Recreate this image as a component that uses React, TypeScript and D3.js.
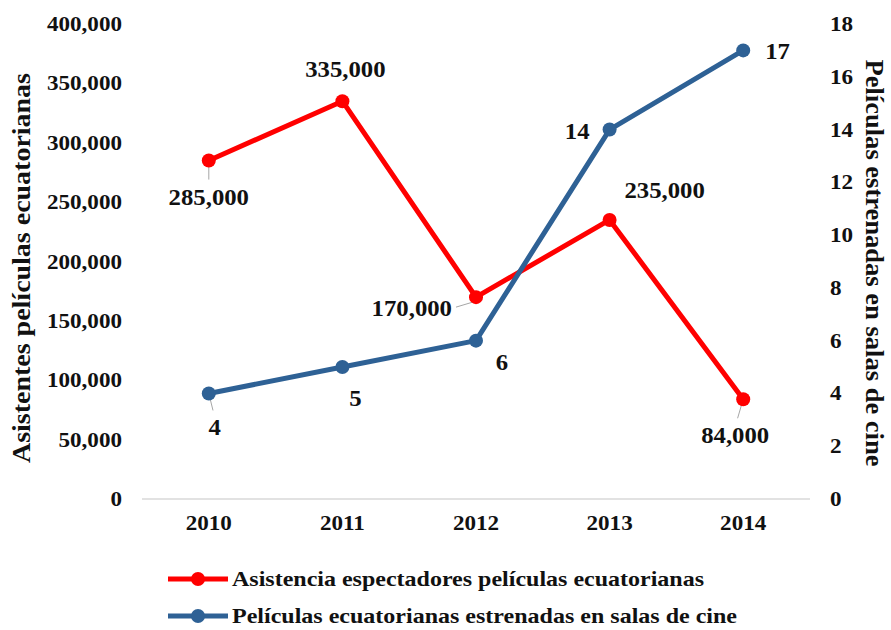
import React, { useEffect, useRef } from "react"
import * as d3 from "d3"

const years = ["2010", "2011", "2012", "2013", "2014"]
const asistencia = [285000, 335000, 170000, 235000, 84000]
const peliculas = [4, 5, 6, 14, 17]
const leftTicks = [0, 50000, 100000, 150000, 200000, 250000, 300000, 350000, 400000]
const rightTicks = [0, 2, 4, 6, 8, 10, 12, 14, 16, 18]
const seriesNames = [
  "Asistencia espectadores películas ecuatorianas",
  "Películas ecuatorianas estrenadas en salas de cine",
]
const leftTitle = "Asistentes películas ecuatorianas"
const rightTitle = "Películas estrenadas en salas de cine"

// label placement relative to each point: [dx, dy, anchor, leader]
const redLabelPos: [number, number, string, boolean][] = [
  [0, 44, "middle", true],
  [3, -24, "middle", false],
  [-24, 19, "end", true],
  [55, -22, "middle", false],
  [-8, 44, "middle", true],
]
const blueLabelPos: [number, number, string, boolean][] = [
  [6, 42, "middle", true],
  [13, 39, "middle", false],
  [26, 29, "middle", false],
  [-20, 9, "end", false],
  [22, 9, "start", false],
]

const RED = "#ff0000"
const BLUE = "#2e6195"
const FONT = "'Liberation Serif', 'Times New Roman', serif"
const SX = 1.1

export default function App() {
  const ref = useRef<SVGSVGElement>(null)

  useEffect(() => {
    const svg = d3.select(ref.current)
    svg.selectAll("*").remove()
    const margin = { top: 24, left: 142, right: 81, bottom: 131 }
    const width = 891, height = 630
    const x = d3.scaleBand().domain(years).range([margin.left, width - margin.right])
    const yL = d3.scaleLinear().domain([0, 400000]).range([height - margin.bottom, margin.top])
    const yR = d3.scaleLinear().domain([0, 18]).range([height - margin.bottom, margin.top])
    const cx = (d: string) => (x(d) as number) + x.bandwidth() / 2
    const fmt = d3.format(",")
    const g = svg.append("g").attr("font-family", FONT).attr("font-weight", "bold").attr("fill", "#111")

    // horizontally stretched text, like the original export
    const txt = (tx: number, ty: number, s: string, anchor: string, size: number) =>
      g.append("text")
        .attr("transform", `translate(${tx},${ty}) scale(${SX},1)`)
        .attr("text-anchor", anchor).attr("font-size", size)
        .text(s)

    // baseline
    g.append("line")
      .attr("x1", margin.left).attr("x2", width - margin.right)
      .attr("y1", yL(0)).attr("y2", yL(0))
      .attr("stroke", "#d9d9d9").attr("stroke-width", 1.5)

    leftTicks.forEach(d => txt(122, yL(d) + 7, fmt(d), "end", 21))
    rightTicks.forEach(d => txt(830, yR(d) + 7, String(d), "start", 21))
    years.forEach(d => txt(cx(d), 530, d, "middle", 21))

    g.append("text")
      .attr("transform", `translate(30,268) rotate(-90)`)
      .attr("text-anchor", "middle").attr("font-size", 25)
      .attr("textLength", 390).attr("lengthAdjust", "spacingAndGlyphs")
      .text(leftTitle)
    g.append("text")
      .attr("transform", `translate(866,263) rotate(90)`)
      .attr("text-anchor", "middle").attr("font-size", 25)
      .attr("textLength", 407).attr("lengthAdjust", "spacingAndGlyphs")
      .text(rightTitle)

    const drawSeries = (vals: number[], y: d3.ScaleLinear<number, number>, color: string,
      pos: [number, number, string, boolean][], label: (v: number) => string) => {
      const line = d3.line<number>().x((_, i) => cx(years[i])).y(d => y(d))
      g.append("path").attr("d", line(vals)).attr("fill", "none")
        .attr("stroke", color).attr("stroke-width", 5).attr("stroke-linejoin", "round")
      vals.forEach((v, i) => {
        const px = cx(years[i]), py = y(v)
        const [dx, dy, anchor, leader] = pos[i]
        if (leader) {
          const lead = g.append("line").attr("stroke", "#a6a6a6").attr("stroke-width", 1)
          if (anchor === "end") {
            lead.attr("x1", px).attr("y1", py + 4).attr("x2", px + dx + 4).attr("y2", py + 10)
          } else {
            lead.attr("x1", px).attr("y1", py).attr("x2", px + dx * 0.7).attr("y2", py + dy - 25)
          }
        }
        g.append("circle").attr("cx", px).attr("cy", py).attr("r", 7).attr("fill", color)
        txt(px + dx, py + dy, label(v), anchor, 22.5)
      })
    }
    drawSeries(asistencia, yL, RED, redLabelPos, v => fmt(v))
    drawSeries(peliculas, yR, BLUE, blueLabelPos, v => String(v))

    // legend
    const colors = [RED, BLUE]
    seriesNames.forEach((name, i) => {
      const ly = 579 + i * 37
      g.append("line").attr("x1", 168).attr("x2", 228).attr("y1", ly).attr("y2", ly)
        .attr("stroke", colors[i]).attr("stroke-width", 5)
      g.append("circle").attr("cx", 198).attr("cy", ly).attr("r", 7).attr("fill", colors[i])
      g.append("text").attr("x", 232).attr("y", ly + 7).attr("font-size", 21)
        .attr("textLength", i === 0 ? 472 : 505).attr("lengthAdjust", "spacingAndGlyphs")
        .text(name)
    })
  }, [])

  return (
    <svg ref={ref} width={891} height={630}
      style={{ display: "block", position: "absolute", left: 0, top: 0 }} />
  )
}
